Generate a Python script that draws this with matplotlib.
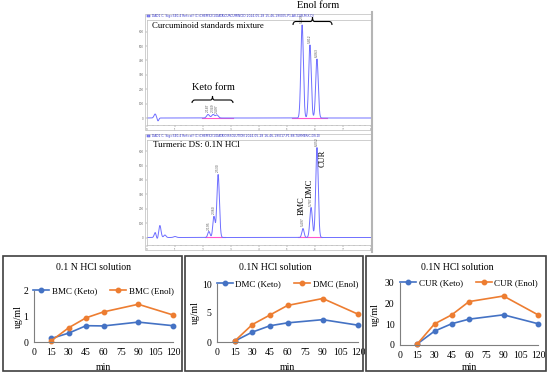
import numpy as np
import matplotlib
matplotlib.use('Agg')
import matplotlib.pyplot as plt
from matplotlib.transforms import Affine2D
from matplotlib.path import Path
from matplotlib.patches import PathPatch, Rectangle

plt.rcParams['font.family'] = ['Liberation Serif', 'DejaVu Serif']

# dissolution data (ug/ml) in 0.1N HCl
minutes = [15, 30, 45, 60, 90, 120]
bmc_keto = [0.14, 0.35, 0.64, 0.63, 0.78, 0.64]
bmc_enol = [0.05, 0.56, 0.95, 1.18, 1.48, 1.06]
dmc_keto = [0.15, 1.7, 2.8, 3.3, 3.85, 2.9]
dmc_enol = [0.15, 3.0, 4.65, 6.3, 7.5, 4.8]
cur_keto = [0.5, 6.7, 10.3, 12.5, 14.6, 10.3]
cur_enol = [0.5, 10.2, 14.6, 21.0, 23.7, 14.6]

# chromatogram peak tables: retention time (min), height, width
std_rt = [0.29, 0.39, 2.18, 2.36, 2.50, 5.54, 5.82, 6.07]
std_h = [4, -3, 3.5, 3.5, 3, 93, 73, 59]
std_w = [0.04, 0.03, 0.05, 0.05, 0.05, 0.045, 0.045, 0.045]
std_tags = ['', '', '2.187', '2.349', '2.497', '5.529', '5.812', '6.063']
std_base = [(1.96, 3.07), (5.18, 6.43)]

ds_rt = [0.29, 0.37, 0.46, 0.64, 1.0, 2.21, 2.39, 2.54, 5.57, 5.86, 6.07]
ds_h = [5, -2, 12, 2.5, 1, 6, 21, 63, 9, 30, 90]
ds_w = [0.035, 0.03, 0.04, 0.04, 0.05, 0.04, 0.04, 0.045, 0.04, 0.045, 0.045]
ds_tags = ['', '', '', '', '', '2.195', '2.360', '2.530', '5.497', '5.787', '6.052']
ds_base = [(2.07, 2.79), (5.39, 6.25)]
ds_names = ['BMC', 'DMC', 'CUR']
ds_name_xy = [(302, 206), (310, 188), (323, 158)]

fig = plt.figure(figsize=(5.5, 3.77), dpi=100)
# pixel coords, origin top-left
T = Affine2D().scale(1 / 550, -1 / 377).translate(0, 1) + fig.transFigure


def box(l, t, r, b):
    return [l / 550, 1 - b / 377, (r - l) / 550, (b - t) / 377]


def chrom(top, bottom, rts, hs, ws, tags, bases, header, ylo):
    fig.patches.append(Rectangle((145, top - 6), 227, bottom - top + 11, transform=T,
                                 fill=False, ec='#c8c8c8', lw=0.6))
    ax = fig.add_axes(box(147, top, 371, bottom))
    t = np.linspace(0, 8, 3000)
    y = np.zeros_like(t)
    for rt, h, w in zip(rts, hs, ws):
        y += h * np.exp(-0.5 * ((t - rt) / w) ** 2)
    for a, b in bases:
        ax.plot([a, b], [0.4, 0.4], color='#ff55cc', lw=0.8)
    ax.plot(t, y, color='#6f6fff', lw=0.7)
    for rt, h, tag in zip(rts, hs, tags):
        if tag:
            ax.text(rt, h + 2, tag, rotation=90, fontsize=2.2, ha='center', va='bottom',
                    color='#555555', family='DejaVu Sans')
    ax.set_xlim(0, 8)
    ax.set_ylim(ylo, ylo + 105)
    ax.set_yticks(np.arange(0, 90, 14.4))
    ax.set_yticklabels(['0', '100', '200', '300', '400', '500', '600'])
    ax.set_xticks(range(0, 9))
    ax.set_xticks(np.arange(0, 8.01, 0.2), minor=True)
    ax.tick_params(labelsize=2, length=1.5, width=0.3, pad=0.8, colors='#666666',
                   labelfontfamily='DejaVu Sans')
    ax.tick_params(which='minor', length=0.8, width=0.3, colors='#666666')
    for s in ax.spines.values():
        s.set_color('#bbbbbb')
        s.set_linewidth(0.5)
    fig.patches.append(Rectangle((147, top - 5), 3, 2, transform=T, fc='#9999ff',
                                 ec='#3333cc', lw=0.3))
    fig.text(152, top - 4, header, transform=T, fontsize=2.2, color='#3333cc',
             va='center', family='DejaVu Sans')
    return ax


def brace(x0, x1, ytip, yend):
    xm = (x0 + x1) / 2
    ymid = (ytip + yend) / 2 + 0.5
    verts = [(x0, yend), (x0, ymid), (x0 + 3, ymid),
             (xm - 2, ymid), (xm, ymid), (xm, ytip),
             (xm, ymid), (xm + 2, ymid),
             (x1 - 3, ymid), (x1, ymid), (x1, yend)]
    codes = [Path.MOVETO, Path.CURVE3, Path.CURVE3,
             Path.LINETO, Path.CURVE3, Path.CURVE3,
             Path.CURVE3, Path.CURVE3,
             Path.LINETO, Path.CURVE3, Path.CURVE3]
    fig.patches.append(PathPatch(Path(verts, codes), transform=T, fill=False,
                                 ec='black', lw=0.8))


# top chromatograms
chrom(20, 125, std_rt, std_h, std_w, std_tags, std_base,
      'DAD1 C, Sig=340,4 Ref=off (C:\\CHEM32\\1\\DATA\\CURCUMINOID 2024-05-28 15-46-19\\005-P1-A8-CUR-MIX.D)', -7)
chrom(140, 245, ds_rt, ds_h, ds_w, ds_tags, ds_base,
      'DAD1 C, Sig=340,4 Ref=off (C:\\CHEM32\\1\\DATA\\DISSOLUTION 2024-05-28 16-46-19\\017-P1-B8-TURMERIC-DS.D)', -7.5)
fig.add_artist(plt.Line2D([372, 372], [12, 252], transform=T, color='#b5b5b5', lw=1.5))

fig.text(152, 26, 'Curcuminoid standards mixture', transform=T, fontsize=6.3, va='center')
fig.text(153, 145, 'Turmeric DS: 0.1N HCl', transform=T, fontsize=6.5, va='center')
fig.text(318, 6, 'Enol form', transform=T, fontsize=7.5, ha='center', va='center')
fig.text(213, 88, 'Keto form', transform=T, fontsize=7.5, ha='center', va='center')
brace(293, 332, 17, 25)
brace(192, 233, 96, 103)
for name, (x, y) in zip(ds_names, ds_name_xy):
    fig.text(x, y, name, transform=T, fontsize=6, rotation=90, ha='center', va='center')

# bottom dissolution charts
for l, r in [(3, 182), (185, 363), (366, 546)]:
    fig.patches.append(Rectangle((l, 256), r - l, 115, transform=T, fill=False,
                                 ec='#404040', lw=1.2))


def rate(pos, keto, enol, name, ymax, step, title, cx, ylab_x):
    ax = fig.add_axes(box(*pos))
    ax.plot(minutes, keto, color='#4472C4', marker='o', ms=3.2, lw=1.2,
            label=name + ' (Keto)', clip_on=False)
    ax.plot(minutes, enol, color='#ED7D31', marker='o', ms=3.2, lw=1.2,
            label=name + ' (Enol)', clip_on=False)
    ax.set_xlim(0, 120)
    ax.set_xticks(range(0, 121, 15))
    ax.set_ylim(0, ymax)
    ax.set_yticks(np.arange(0, ymax + 0.1, step))
    ax.spines[['top', 'right']].set_visible(False)
    for s in ['left', 'bottom']:
        ax.spines[s].set_color('#7f7f7f')
        ax.spines[s].set_linewidth(0.8)
    ax.tick_params(length=0, labelsize=7, pad=4)
    ax.legend(loc='center', bbox_to_anchor=(0.5, 1.0), ncol=2, frameon=False,
              fontsize=6.5, handlelength=1.8, handletextpad=0.3, columnspacing=1.4,
              borderaxespad=0)
    ax.set_xlabel('min', fontsize=7)
    ax.xaxis.set_label_coords((pos[0] + pos[2]) / 2, 367, transform=T)
    ax.xaxis.label.set_va('center')
    ax.set_ylabel('ug/ml', fontsize=7)
    ax.yaxis.set_label_coords(ylab_x, (pos[1] + pos[3]) / 2, transform=T)
    ax.yaxis.label.set_va('center')
    fig.text(cx, 267, title, transform=T, fontsize=7, ha='center', va='center')
    return ax


rate((34, 291, 173, 342), bmc_keto, bmc_enol, 'BMC', 2, 1, '0.1 N HCl solution', 93, 18)
rate((217, 284, 358, 342), dmc_keto, dmc_enol, 'DMC', 10, 5, '0.1N HCl solution', 275, 195)
rate((400, 283, 538, 345), cur_keto, cur_enol, 'CUR', 30, 10, '0.1N HCl solution', 457, 375)

fig.savefig('out.png', dpi=100)
